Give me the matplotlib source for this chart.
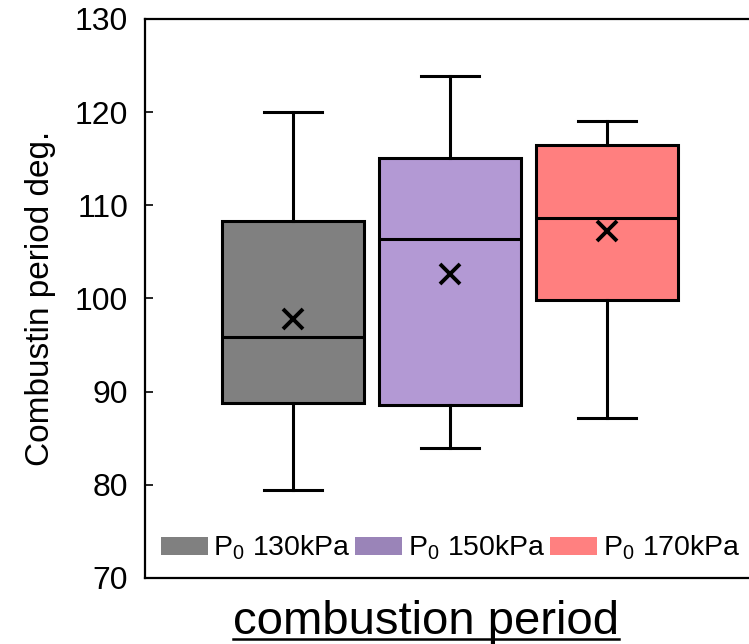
import matplotlib
matplotlib.use("Agg")
import matplotlib.pyplot as plt
from matplotlib.patches import Patch
from matplotlib.lines import Line2D

plt.rcParams['font.family'] = ['Liberation Sans', 'DejaVu Sans']
plt.rcParams['mathtext.fontset'] = 'custom'
plt.rcParams['mathtext.rm'] = 'Liberation Sans'
plt.rcParams['mathtext.it'] = 'Liberation Sans'

labels = [r'P$_0$ 130kPa', r'P$_0$ 150kPa', r'P$_0$ 170kPa']
whislo = [79.4, 84.0, 87.2]
q1 = [88.8, 88.6, 99.8]
med = [95.9, 106.4, 108.6]
q3 = [108.3, 115.1, 116.5]
whishi = [120.0, 123.9, 119.1]
means = [97.8, 102.6, 107.2]
box_colors = ['#808080', '#b399d4', '#ff7f7f']
legend_colors = ['#808080', '#9a84b8', '#ff8080']

stats = []
for i in range(3):
    stats.append(dict(label=labels[i], whislo=whislo[i], q1=q1[i], med=med[i],
                      q3=q3[i], whishi=whishi[i], mean=means[i], fliers=[]))

fig = plt.figure(figsize=(7.49, 6.44), dpi=100)
ax = fig.add_axes([0.1936, 0.1025, 0.8144, 0.868])

lw = 2.2
bp = ax.bxp(stats, positions=[1, 2, 3], widths=0.9, capwidths=0.37,
            patch_artist=True, showmeans=True, showfliers=False,
            boxprops=dict(linewidth=lw, edgecolor='black'),
            whiskerprops=dict(linewidth=lw, color='black'),
            capprops=dict(linewidth=lw, color='black'),
            medianprops=dict(linewidth=lw, color='black'),
            meanprops=dict(marker='x', markersize=15, markeredgewidth=2.8,
                           markeredgecolor='black'))
for box, c in zip(bp['boxes'], box_colors):
    box.set_facecolor(c)

ax.set_xlim(0.06, 3.94)
ax.set_ylim(70, 130)
ax.set_yticks([70, 80, 90, 100, 110, 120, 130])
ax.tick_params(axis='y', direction='in', length=6, width=1.2, labelsize=23, pad=12)
ax.set_xticks([])
for s in ax.spines.values():
    s.set_linewidth(1.6)
ax.spines['right'].set_visible(False)
ax.set_ylabel('Combustin period deg.', fontsize=24, labelpad=14)

handles = [Patch(facecolor=c, edgecolor='none') for c in legend_colors]
ax.legend(handles, labels, loc='lower left', bbox_to_anchor=(0.0, 0.0),
          ncol=3, frameon=False, fontsize=20.5, handlelength=1.65,
          handleheight=0.6, handletextpad=0.2, columnspacing=0.15,
          borderaxespad=0.25, borderpad=0.3)

t = fig.text(0.569, 0.0155, 'combustion period', fontsize=34, ha='center', va='baseline')
fig.canvas.draw()
bb = t.get_window_extent().transformed(fig.transFigure.inverted())
fig.add_artist(Line2D([bb.x0, bb.x1], [0.0075, 0.0075],
                      color='black', linewidth=1.8, transform=fig.transFigure))

fig.savefig('out.png', dpi=100)
